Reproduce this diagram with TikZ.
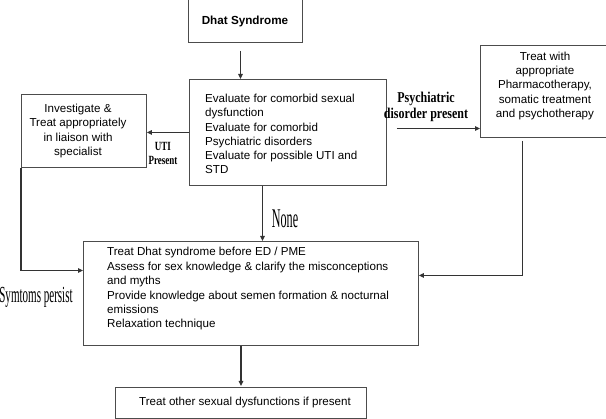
\documentclass[tikz,border=0pt]{standalone}
\usepackage{fontspec}
\usepackage{graphicx}
\setmainfont{Liberation Sans}
\newfontfamily\labfont{Liberation Serif}
\usetikzlibrary{arrows.meta}
\begin{document}
\begin{tikzpicture}[x=1pt,y=-1pt,
  box/.style={draw=black!70, line width=0.9pt, rectangle, inner sep=0pt},
  txt/.style={font=\fontsize{11.6}{14.2}\selectfont, inner sep=0pt},
  arr/.style={draw=black!80, line width=1.2pt, -{Triangle[length=5pt,width=4.5pt]}},
  lab/.style={inner sep=0pt, align=center}]
\useasboundingbox (0,0) rectangle (606,419);
\fill[white] (0,0) rectangle (606,419);
% boxes
\node[box, anchor=north west, minimum width=114pt, minimum height=44pt] (dhat) at (188,-2) {};
\node[font=\fontsize{11.7}{13}\selectfont\bfseries, inner sep=0pt] (dhattext) at (245,21) {Dhat Syndrome};
\node[box, anchor=north west, minimum width=197pt, minimum height=106pt] (eval) at (189,79) {};
\node[txt, align=left, anchor=west] (evaltext) at (205,134)
 {Evaluate for comorbid sexual\\dysfunction\\Evaluate for comorbid\\Psychiatric disorders\\Evaluate for possible UTI and\\STD};
\node[box, anchor=north west, minimum width=125pt, minimum height=73pt] (inv) at (21,94) {};
\node[txt, align=center] (invtext) at (78,131)
 {Investigate \&\\Treat appropriately\\in liaison with\\specialist};
\node[box, anchor=north west, minimum width=126pt, minimum height=92pt] (treat) at (480,45) {};
\node[txt, align=center] (treattext) at (545,86)
 {Treat with\\appropriate\\Pharmacotherapy,\\somatic treatment\\and psychotherapy};
\node[box, anchor=north west, minimum width=335pt, minimum height=104pt] (tdhat) at (83,241) {};
\node[txt, font=\fontsize{11.6}{14.4}\selectfont, align=left, anchor=west] (tdhattext) at (107,289)
 {Treat Dhat syndrome before ED / PME\\Assess for sex knowledge \& clarify the misconceptions\\and myths\\Provide knowledge about semen formation \& nocturnal\\emissions\\Relaxation technique};
\node[box, anchor=north west, minimum width=251pt, minimum height=31pt] (other) at (115,387) {};
\node[txt] (othertext) at (245,403) {Treat other sexual dysfunctions if present};
% connectors
\draw[arr, shorten <=8pt] ([xshift=-5pt]dhat.south) -- ([xshift=-5pt]dhat.south |- eval.north);
\draw[arr] (eval.west) -- (eval.west -| inv.east);
\draw[arr, shorten <=10pt] ([yshift=4pt]eval.east) -- ([yshift=4pt]eval.east -| treat.west);
\draw[arr] ([xshift=-25.5pt]eval.south) -- ([xshift=-25.5pt]eval.south |- tdhat.north);
\draw[arr, shorten <=3pt] ([xshift=-21pt]treat.south) |- ([yshift=18pt]tdhat.east);
\draw[arr] (inv.south west) |- ([yshift=23pt]tdhat.west);
\draw[arr, shorten >=1pt] (other.north |- tdhat.south) -- (other.north);
% labels
\node[lab, font=\labfont\bfseries\fontsize{12.5}{14}\selectfont] (uti) at (163,153) {\scalebox{0.72}[1]{UTI}\\\scalebox{0.72}[1]{Present}};
\node[lab, font=\labfont\bfseries\fontsize{15}{15.5}\selectfont] (psy) at (426,107) {\scalebox{0.8}[1]{Psychiatric}\\\scalebox{0.8}[1]{disorder present}};
\node[lab, font=\labfont\fontsize{27}{28}\selectfont] (none) at (285,219) {\scalebox{0.45}[1]{None}};
\node[lab, font=\labfont\fontsize{23}{24}\selectfont] (sym) at (36,297) {\scalebox{0.48}[1]{Symtoms persist}};
\end{tikzpicture}
\end{document}
